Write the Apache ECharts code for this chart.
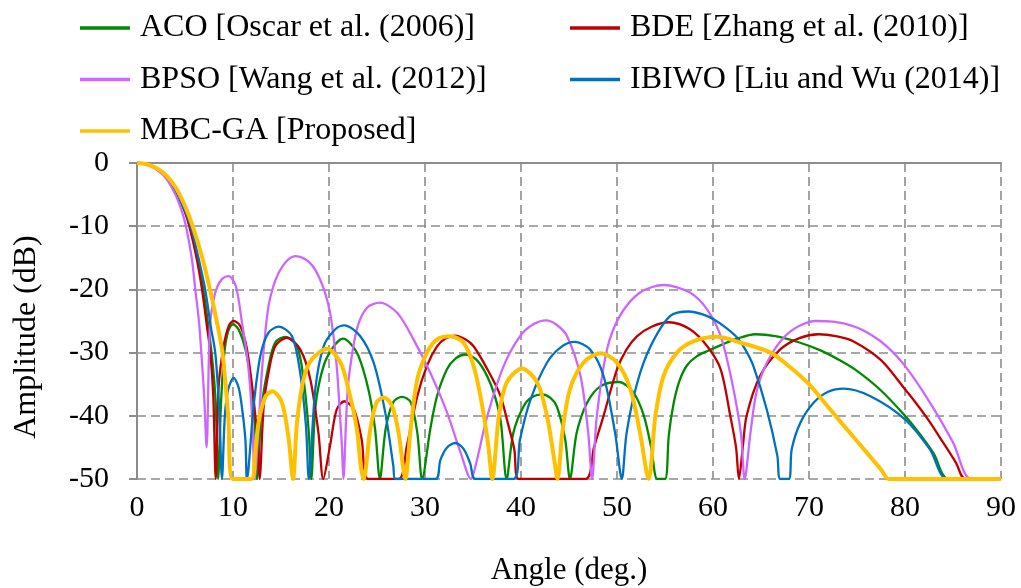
<!DOCTYPE html>
<html>
<head>
<meta charset="utf-8">
<script src="https://cdn.jsdelivr.net/npm/echarts@6/dist/echarts.min.js"></script>
<style>
html,body{margin:0;padding:0;background:#fff;}
#chart{width:1021px;height:588px;}
</style>
</head>
<body>
<div id="chart"></div>
<script>
// ---- Data: [angle (deg), amplitude (dB)] ----
const seriesNames = [
  'ACO [Oscar et al. (2006)]',
  'BDE [Zhang et al. (2010)]',
  'BPSO [Wang et al. (2012)]',
  'IBIWO [Liu and Wu (2014)]',
  'MBC-GA [Proposed]'
];

const acoData = [
  [0,0],[1,-0.2],[2,-0.85],[3,-2.0],[4,-4.2],[5,-7.6],[5.5,-10],[6.3,-15],[6.9,-20],[7.45,-26],[7.9,-32],[8.2,-38],[8.45,-50],
  [8.75,-38],[9.1,-30],[9.5,-26.6],[10.0,-25.5],[10.6,-26.4],[11.3,-29.5],[11.9,-35],[12.3,-42],[12.5,-50],
  [13.0,-38.4],[13.7,-32.1],[14.4,-28.4],[15.45,-27.5],[16.67,-29.0],[17.35,-34.2],[17.9,-42.7],[18.15,-50],
  [18.6,-38.4],[19.44,-32.1],[20.5,-29.0],[21.45,-27.8],[22.9,-30.0],[24.1,-35.8],[24.8,-42.1],[25.3,-50],
  [25.9,-42.1],[26.7,-37.8],[27.6,-37.0],[28.5,-37.8],[29.2,-42.7],[29.7,-50],
  [30.55,-42.1],[31.25,-36.9],[32.3,-32.6],[33.2,-30.9],[34.2,-30.3],[35.4,-31.2],[36.5,-33.8],[37.3,-37.0],[37.9,-41],[38.5,-50],
  [39.2,-42.7],[40.3,-38.4],[41.2,-37.0],[42.2,-36.6],[43.1,-37.2],[43.75,-38.6],[44.6,-43.7],[45.1,-50],
  [45.8,-42.7],[46.9,-37.9],[48.3,-35.3],[50.2,-34.65],[51.7,-36.3],[52.8,-40],[53.6,-45.3],[54.2,-50],[55.0,-50],
  [55.4,-43],[55.9,-38],[56.5,-34.5],[57.3,-32.0],[58.3,-30.6],[59.5,-29.7],[61,-28.7],[62.5,-27.8],[64.4,-27.1],[66.5,-27.4],
  [69,-28.4],[71.2,-29.65],[73.3,-31.3],[75,-32.9],[77.5,-36.0],[80,-40.0],[81.5,-42.8],[83,-46.0],[84.5,-50],[90,-50]
];

const bdeData = [
  [0,0],[1,-0.2],[2,-0.9],[3,-2.1],[4,-4.3],[5,-7.8],[5.45,-10],[6.2,-15],[6.77,-20],[7.3,-26],[7.64,-30],[7.95,-37],[8.2,-50],
  [8.5,-35.5],[9.0,-29.2],[9.55,-25.8],[10.06,-25.0],[10.76,-25.8],[11.46,-29.5],[12.15,-37.4],[12.6,-44.7],[12.77,-50],
  [13.2,-38.4],[13.7,-33.2],[14.4,-29.0],[15.6,-27.65],[17.0,-29.5],[18.05,-34.2],[18.9,-42.7],[19.4,-50],
  [20.1,-44.8],[20.8,-39.0],[21.6,-37.7],[22.6,-39.0],[23.4,-43.7],[24.1,-50],[27.25,-50],
  [28.1,-44.8],[29.2,-36.9],[30.2,-32.1],[31.25,-29.0],[32.1,-27.8],[33.15,-27.3],[34.2,-27.9],[35.06,-29.0],[36.5,-32.65],
  [37.85,-36.8],[38.6,-41],[39.3,-45.3],[39.75,-50],[46.7,-50],
  [47.6,-45],[48.6,-40],[50.0,-32.65],[51.0,-29.5],[52.1,-27.4],[53.6,-25.9],[55.4,-25.2],[57.6,-26.3],[59.4,-29.0],[60.8,-32.65],
  [61.8,-40.0],[62.4,-45],[62.7,-50],
  [63.1,-45],[63.5,-40],[64.9,-33.7],[67.0,-29.5],[69,-27.7],[71.0,-27.1],[72.8,-27.4],[74.6,-28.2],[77.5,-31.2],[80,-35.8],
  [81,-37.7],[82.5,-40.8],[84,-44.3],[85.3,-47.4],[86.3,-50],[90,-50]
];

const bpsoData = [
  [0,0],[1,-0.25],[2,-1.0],[3,-2.4],[4,-5.0],[4.6,-7.3],[5.1,-10],[5.7,-15],[6.07,-20],[6.45,-25],[6.7,-30],[7.0,-37],[7.25,-45],
  [7.5,-30],[7.64,-25.0],[8.0,-21.5],[8.33,-19.7],[8.9,-18.3],[9.55,-17.9],[10.3,-19.5],[10.94,-25.3],[11.5,-31],[11.8,-35.8],[12.05,-42],[12.25,-50],
  [12.67,-41.6],[13.0,-33.2],[13.36,-26.9],[13.7,-22.6],[14.2,-19.5],[14.75,-17.4],[15.6,-15.5],[16.55,-14.75],[17.5,-15.2],[18.3,-16.3],
  [19.0,-18.2],[19.6,-20.6],[20.1,-23.6],[20.5,-27.8],[20.85,-33],[21.15,-40],[21.35,-45],[21.5,-50],
  [21.8,-40],[22.05,-34.2],[22.9,-26.3],[23.96,-22.9],[25.3,-22.1],[27.1,-23.7],[28.8,-27.9],[30.55,-33.2],[32.3,-39.5],[33.7,-45.8],[34.8,-50],
  [35.25,-48],[36.5,-40],[38.2,-32.1],[39.9,-27.4],[41.2,-25.6],[42.6,-24.9],[43.7,-25.6],[44.8,-27.4],[46.2,-33.7],[47.0,-42.7],[47.4,-50],
  [47.9,-40],[48.96,-29.5],[50.3,-24.2],[52.4,-20.5],[54.85,-19.3],[57.6,-20.5],[59.4,-23.2],[60.8,-27.4],[62.0,-34.8],[62.9,-42.7],[63.3,-50],
  [63.9,-42.7],[64.6,-35.8],[66.0,-30.5],[68.1,-26.6],[70.7,-25.0],[72.5,-25.1],[74.6,-25.8],[76.5,-27.2],[78.1,-29.0],[80,-32.1],
  [82.6,-37.9],[85.0,-44.2],[86.9,-50],[90,-50]
];

const ibiwoData = [
  [0,0],[1,-0.2],[2,-0.85],[3,-2.0],[4,-4.2],[5,-7.6],[5.6,-10],[6.4,-15],[7.1,-20],[7.7,-26],[8.15,-30],[8.45,-36],[8.6,-40],[8.85,-50],
  [9.15,-40],[9.5,-35.8],[10.07,-34.0],[10.6,-35.6],[11.0,-39.5],[11.3,-44],[11.45,-50],
  [12.15,-38.4],[12.85,-30.5],[13.7,-26.85],[14.75,-25.9],[16.15,-27.4],[17.0,-33.2],[17.6,-41.6],[17.9,-50],
  [18.57,-35.8],[19.44,-29.0],[20.66,-26.3],[21.6,-25.7],[23.26,-27.4],[24.65,-31.6],[25.86,-39.5],[26.7,-47.9],[26.9,-50],[31.1,-50],
  [31.6,-47],[32.3,-45],[33.15,-44.3],[34.0,-45.2],[34.7,-47.5],[35.25,-50],[39.2,-50],
  [39.9,-43.7],[41.0,-37.4],[42.7,-31.6],[44.1,-29.2],[45.55,-28.3],[47.2,-29.5],[48.6,-33.7],[49.8,-42.7],[50.5,-50],
  [51.0,-42.7],[52.1,-34.8],[53.5,-29.0],[55.55,-24.2],[57.5,-23.5],[59,-24.0],[60.1,-24.75],[61.3,-26.0],[62.5,-27.6],[63.4,-29.6],
  [64.2,-32.1],[65.6,-39.0],[66.7,-46.3],[67.0,-50],[67.9,-50],
  [68.2,-45.3],[69.1,-41.1],[70.5,-37.9],[72,-36.2],[73.6,-35.7],[76.4,-36.9],[80,-40.55],[82.6,-45.3],[84.4,-50],[90,-50]
];

const mbcgaData = [
  [0,0],[1,-0.2],[2,-0.8],[3,-1.9],[4,-3.8],[5,-6.8],[5.8,-10],[6.8,-15],[7.6,-20],[8.3,-25],[8.9,-30],[9.5,-40],[9.96,-50],[11.9,-50],
  [12.3,-46],[12.67,-41],[13.36,-37],[14.1,-36.1],[15.1,-37.9],[15.8,-43.7],[16.25,-50],
  [16.67,-41],[17.35,-34.2],[18.2,-31.1],[19.8,-29.4],[21.2,-31.6],[22.2,-36.9],[22.9,-42.1],[23.3,-47.9],[23.6,-50],
  [24.3,-42.1],[24.95,-37.9],[25.7,-37.1],[26.56,-38.4],[27.25,-42.7],[27.7,-47.9],[27.95,-50],
  [28.5,-42.1],[29.2,-34.2],[30.2,-30.0],[31.25,-27.9],[32.6,-27.4],[34.0,-28.4],[35.06,-32.1],[35.9,-37.9],[36.6,-44.8],[37.0,-50],
  [37.7,-40],[38.5,-34.75],[40.1,-32.5],[41.7,-34.75],[42.7,-40],[43.4,-46.3],[43.8,-50],
  [44.3,-42.7],[45.1,-35.8],[46.5,-31.6],[48.3,-30.1],[50.0,-31.6],[51.4,-35.8],[52.4,-42.7],[53.3,-50],
  [54.0,-40],[54.85,-33.7],[56.25,-30.0],[58.0,-28.2],[60.4,-27.5],[62.8,-28.4],[66.0,-30.0],[68.1,-32.4],[70,-35.0],[71.5,-37.7],
  [73.2,-40.8],[75.5,-44.9],[77.5,-48.5],[78.3,-50],[79,-50],[90,-50]
];

const seriesData = [acoData, bdeData, bpsoData, ibiwoData, mbcgaData];
const seriesColors = ['#008a00', '#c00000', '#cc66ff', '#0070c0', '#ffc000'];
const seriesWidths = [2.3, 2.3, 2.3, 2.3, 4];

const FONT = 'Liberation Serif, Times New Roman, serif';
const GRID_COLOR = '#8c8c8c';

const chart = echarts.init(document.getElementById('chart'), null, {renderer: 'canvas'});

const legendBase = {
  orient: 'vertical',
  top: 6,
  icon: 'rect',
  itemWidth: 50,
  itemHeight: 3.5,
  itemGap: 17.5,
  textStyle: {fontFamily: FONT, fontSize: 32, color: '#000', lineHeight: 34, padding: [0, 0, 0, 5]}
};

const option = {
  animation: false,
  backgroundColor: '#ffffff',
  textStyle: {fontFamily: FONT},
  legend: [
    Object.assign({}, legendBase, {left: 75, data: [seriesNames[0], seriesNames[2], seriesNames[4]]}),
    Object.assign({}, legendBase, {left: 565, data: [seriesNames[1], seriesNames[3]]})
  ],
  grid: {left: 137, right: 20, top: 163, bottom: 109, containLabel: false, outerBoundsMode: 'none'},
  xAxis: [
    {
      type: 'value', min: 0, max: 90, interval: 10, position: 'bottom',
      axisLine: {show: false},
      axisTick: {show: false},
      axisLabel: {color: '#000', fontSize: 30, fontFamily: FONT, margin: 14},
      splitLine: {show: true, lineStyle: {color: GRID_COLOR, type: [9, 5], width: 1.6}},
      name: 'Angle (deg.)', nameLocation: 'middle', nameGap: 76,
      nameTextStyle: {color: '#000', fontSize: 31, fontFamily: FONT}
    },
    {
      type: 'value', min: 0, max: 90, interval: 10, position: 'top',
      axisLine: {show: true, onZero: false, lineStyle: {color: GRID_COLOR, width: 2}},
      axisTick: {show: false}, axisLabel: {show: false}, splitLine: {show: false}
    }
  ],
  yAxis: {
    type: 'value', min: -50, max: 0, interval: 10,
    axisLine: {show: true, onZero: false, lineStyle: {color: GRID_COLOR, width: 2}},
    axisTick: {show: true, inside: false, length: 8, lineStyle: {color: GRID_COLOR, width: 2}},
    axisLabel: {color: '#000', fontSize: 30, fontFamily: FONT, margin: 28},
    splitLine: {show: true, lineStyle: {color: GRID_COLOR, type: [9, 5], width: 1.6}},
    name: 'Amplitude (dB)', nameLocation: 'middle', nameRotate: 90, nameGap: 94,
    nameTextStyle: {color: '#000', fontSize: 32, fontFamily: FONT, padding: [0, 32, 0, 0]}
  },
  series: seriesNames.map((name, i) => ({
    name: name,
    type: 'line',
    xAxisIndex: 0,
    data: seriesData[i],
    symbol: 'none',
    smooth: 0.3,
    clip: true,
    lineStyle: {color: seriesColors[i], width: seriesWidths[i]},
    itemStyle: {color: seriesColors[i]},
    z: 2 + i
  }))
};

chart.setOption(option);
</script>
</body>
</html>
